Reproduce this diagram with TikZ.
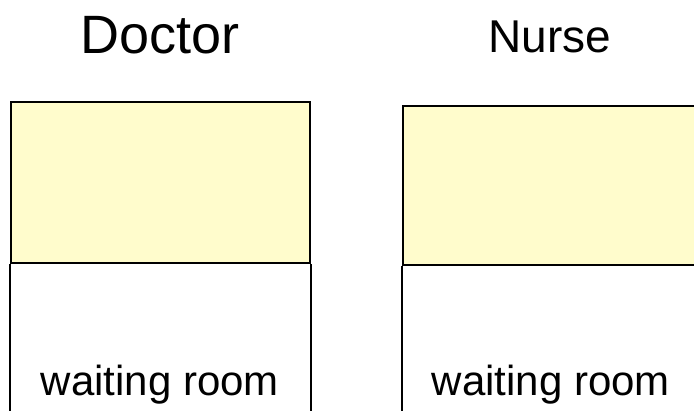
\documentclass[tikz,border=0pt]{standalone}
\usepackage{fontspec}
\setmainfont{Liberation Sans}
\definecolor{boxyellow}{RGB}{255,252,204}
\begin{document}
\begin{tikzpicture}[x=1pt,y=-1pt,
  roombox/.style={draw=black,line width=2pt,fill=boxyellow,rectangle,inner sep=0pt},
  wall/.style={draw=black,line width=1.5pt},
  title/.style={anchor=base,inner sep=0pt},
  label/.style={anchor=base,inner sep=0pt,font=\fontsize{42}{48}\selectfont}]
\clip (0,0) rectangle (694,410);
\fill[white] (0,0) rectangle (694,410);
\node[roombox,minimum width=299pt,minimum height=161pt] (dbox) at (160.5,182.5) {};
\node[roombox,minimum width=297pt,minimum height=159pt] (nbox) at (551.5,185.5) {};
\coordinate (dl) at (dbox.south west |- 0,415);
\coordinate (dr) at (dbox.south east |- 0,415);
\coordinate (nl) at (nbox.south west |- 0,415);
\draw[wall] (dbox.south west) -- (dl);
\draw[wall] (dbox.south east) -- (dr);
\draw[wall] (nbox.south west) -- (nl);
\node[title,font=\fontsize{54}{60}\selectfont] (doc) at (160,53) {Doctor};
\node[title,font=\fontsize{46}{52}\selectfont] (nur) at (550,52) {Nurse};
\node[label] (w1) at (160,395) {waiting room};
\node[label] (w2) at (551,395) {waiting room};
\end{tikzpicture}
\end{document}
